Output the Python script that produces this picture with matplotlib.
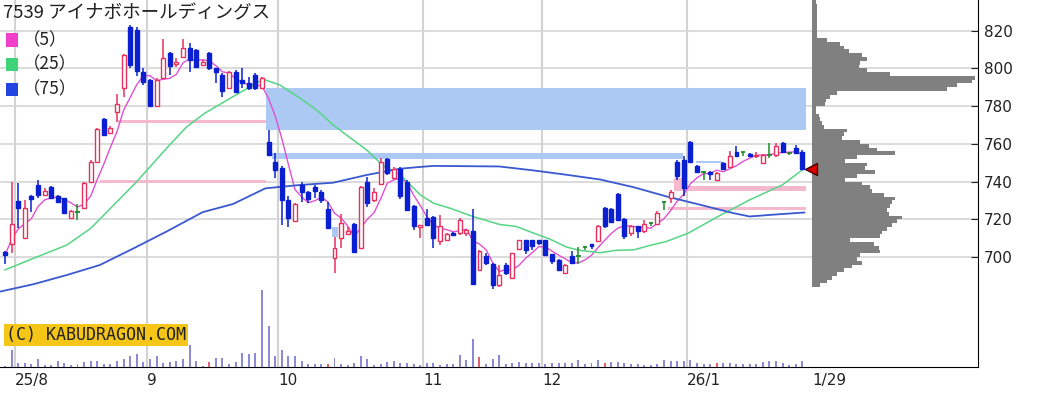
import numpy as np
import pandas as pd
import matplotlib
matplotlib.use('Agg')
import matplotlib.pyplot as plt
from matplotlib.patches import Rectangle

# daily candles, 2025/07/30 .. 2026/01/29 (index = trading day)
opens = [702.5, 706.8, 729.7, 710.3, 732.4, 738.2, 732.9, 737.3, 732.4, 731.1,
         720.5, 724.1, 725.8, 740.0, 750.6, 773.2, 765.6, 777.0, 789.8, 822.1,
         820.3, 797.9, 793.8, 780.2, 794.7, 807.9, 802.2, 806.0, 810.6, 809.7,
         801.8, 807.9, 800.0, 796.5, 789.4, 798.2, 793.8, 792.0, 796.5, 789.4,
         761.1, 750.6, 747.0, 730.2, 719.3, 738.2, 734.7, 737.0, 734.3, 725.3,
         699.3, 709.9, 712.2, 717.5, 704.6, 740.0, 730.2, 738.7, 751.8, 741.7,
         746.5, 740.0, 727.1, 715.8, 720.6, 721.1, 708.3, 709.1, 713.0, 712.7,
         712.7, 714.0, 693.2, 700.3, 696.4, 685.3, 695.9, 688.8, 704.2, 708.8,
         708.8, 708.8, 708.8, 701.7, 698.5, 691.8, 700.3, 700.7, 705.3, 707.0,
         708.3, 725.9, 725.3, 733.3, 720.0, 712.7, 716.2, 713.6, 718.3, 717.6,
         729.0, 731.2, 750.6, 751.5, 761.2, 748.0, 745.3, 745.3, 740.9, 749.8,
         747.6, 755.4, 755.4, 754.7, 753.6, 750.1, 754.2, 754.2, 760.4, 755.1,
         757.7, 755.9]
highs = [703.0, 740.0, 739.0, 730.0, 733.0, 740.8, 736.4, 737.8, 733.0, 731.5,
         725.0, 728.0, 740.0, 751.4, 768.6, 773.9, 769.6, 786.2, 807.4, 823.0,
         822.1, 800.4, 794.5, 794.7, 815.5, 808.5, 805.5, 815.5, 813.4, 810.0,
         804.4, 808.8, 800.2, 797.4, 798.8, 799.1, 800.0, 795.2, 797.4, 795.2,
         767.3, 755.0, 748.0, 732.4, 728.5, 740.0, 735.0, 738.2, 735.5, 729.4,
         710.8, 722.8, 716.1, 717.9, 737.7, 742.6, 736.4, 752.3, 752.7, 747.6,
         747.5, 741.0, 727.7, 717.1, 725.4, 721.9, 722.4, 713.0, 713.5, 720.6,
         714.8, 725.4, 703.5, 702.4, 696.8, 695.9, 696.8, 702.4, 709.1, 709.1,
         709.1, 709.1, 709.1, 701.7, 698.9, 696.2, 703.0, 705.3, 705.6, 707.0,
         717.1, 726.4, 725.9, 733.8, 720.6, 717.0, 716.5, 719.7, 718.8, 724.2,
         729.4, 735.6, 751.2, 753.3, 761.5, 748.9, 745.6, 745.6, 745.3, 750.5,
         756.0, 758.6, 755.6, 755.0, 755.4, 754.5, 760.4, 760.4, 760.8, 755.3,
         759.5, 756.5]
lows = [696.5, 702.0, 715.2, 709.5, 724.0, 731.5, 732.5, 731.1, 728.5, 722.6,
        720.0, 719.6, 725.5, 739.6, 749.7, 764.3, 765.0, 771.7, 785.0, 800.0,
        796.1, 791.2, 780.2, 779.7, 794.3, 796.5, 800.9, 805.4, 798.2, 800.0,
        801.0, 799.1, 792.0, 785.0, 788.9, 787.1, 789.4, 788.5, 788.5, 788.9,
        754.0, 741.7, 717.0, 716.1, 718.8, 729.4, 728.5, 731.1, 728.8, 715.0,
        691.4, 704.6, 711.7, 702.9, 704.3, 726.7, 729.4, 738.2, 743.5, 741.2,
        731.0, 724.5, 714.4, 710.0, 716.2, 704.7, 706.5, 708.6, 711.2, 711.8,
        711.3, 685.8, 692.4, 695.9, 683.0, 684.4, 690.6, 688.3, 703.8, 701.7,
        703.5, 706.5, 700.8, 696.4, 692.9, 691.5, 696.8, 696.4, 703.8, 704.2,
        707.9, 715.2, 718.3, 719.3, 709.5, 711.2, 710.0, 713.0, 716.5, 717.1,
        725.0, 728.6, 740.9, 732.1, 750.0, 744.5, 740.9, 741.0, 740.6, 746.0,
        747.3, 752.9, 753.3, 753.0, 752.7, 749.8, 752.4, 753.0, 755.0, 754.0,
        754.7, 746.0]
closes = [701.0, 717.4, 726.2, 726.2, 730.8, 732.9, 735.2, 731.5, 729.4, 723.2,
          724.4, 724.1, 739.1, 750.6, 767.9, 764.7, 768.6, 780.9, 807.1, 801.5,
          798.8, 792.9, 780.2, 793.8, 805.3, 801.2, 803.5, 810.6, 804.4, 800.9,
          803.5, 800.0, 798.2, 788.0, 798.2, 787.6, 792.0, 789.4, 789.4, 794.7,
          754.1, 746.1, 730.2, 720.5, 728.1, 734.7, 730.6, 735.2, 730.2, 715.2,
          705.0, 717.9, 714.0, 702.9, 737.3, 728.5, 734.7, 750.6, 744.4, 746.5,
          732.1, 725.0, 716.2, 717.1, 717.1, 710.0, 716.2, 712.1, 711.8, 719.4,
          714.4, 685.8, 703.0, 696.8, 685.3, 690.6, 691.5, 702.0, 708.8, 703.8,
          705.6, 707.4, 701.2, 697.7, 693.2, 695.9, 697.1, 700.7, 705.3, 705.6,
          716.6, 716.2, 718.8, 719.7, 711.0, 716.2, 713.6, 717.6, 718.3, 723.3,
          729.0, 734.7, 743.0, 736.5, 750.6, 745.3, 745.3, 744.1, 744.8, 746.6,
          753.3, 753.3, 755.4, 753.3, 754.3, 754.2, 754.2, 758.6, 755.9, 755.1,
          755.1, 746.6]
volume = [1, 17, 4, 4, 3, 8, 2, 2, 6, 4, 2, 3, 5, 6, 6, 3, 3, 6, 8, 11,
          13, 5, 8, 11, 4, 5, 6, 8, 22, 6, 1, 5, 9, 9, 3, 5, 14, 13, 14, 77,
          41, 11, 17, 11, 11, 6, 3, 3, 3, 3, 9, 3, 2,
          4, 11, 8, 2, 3, 5, 6, 4, 4, 3, 2, 4, 4, 2, 3, 3, 12, 7, 28, 10,
          3, 8, 12, 3, 4, 5, 4, 4, 4, 3, 4, 4, 4, 4, 7, 3, 4, 7, 4, 5,
          5, 4, 3, 3, 2, 2, 3, 7, 6, 6, 6, 7, 4, 3, 3, 4, 4, 4, 3, 3,
          3, 3, 5, 6, 6, 4, 2, 3, 6]
vol_red = [31, 49, 72, 91, 108]

# moving averages (25 and 75 days)
ma25_x = [0, 4.3, 9.4, 13, 16, 20, 24.5, 27.6, 30.3, 34.6, 39.2, 41.7, 44.8, 47.3,
          49.8, 52.3, 54.9, 57.4, 60, 63, 65, 67.5, 71, 75, 77.6, 80.2, 82.7, 85.2,
          87.3, 90.3, 92.8, 95.4, 97.9, 100.4, 103.7, 108, 113, 118, 121]
ma25_y = [693.2, 699.3, 706.4, 715.2, 725.8, 740.0, 757.6, 769.1, 776.2, 785.0,
          794.2, 791.2, 784.1, 777.9, 770.0, 763.4, 756.7, 748.3, 743.5, 733.0,
          728.6, 725.9, 721.5, 717.3, 716.2, 712.7, 709.5, 705.3, 703.5, 702.3,
          703.6, 703.8, 706.2, 708.3, 712.7, 721.1, 730.3, 738.3, 746.2]
ma75_x = [-0.76, 4.3, 9.4, 14.4, 19.5, 24.5, 30, 34.6, 39.5, 44.8, 49.8, 54.9,
          59.9, 62.5, 65, 75, 80.2, 85.2, 90.3, 95.4, 100.4, 105.5, 110.5, 113,
          116.3, 121.3]
ma75_y = [681.7, 685.6, 690.5, 695.8, 704.6, 713.5, 723.8, 728.1, 736.4, 738.2,
          739.4, 743.5, 746.8, 747.6, 748.3, 748.0, 745.9, 743.6, 741.1, 737.0,
          732.1, 727.7, 723.3, 721.5, 722.4, 723.6]

month_start = [2, 22, 42, 64, 82, 104]
month_labels = ['25/8', '9', '10', '11', '12', '26/1']
last_label = '1/29'

# price-volume profile (2 yen bins)
profile_price = list(range(684, 836, 2))
profile_vol = [8, 15, 20, 25, 32, 40, 50, 45, 48, 68, 67, 62, 38, 68, 70, 75,
               80, 85, 90, 77, 75, 78, 80, 83, 72, 60, 58, 50, 33, 45, 63, 53,
               55, 33, 45, 83, 65, 57, 48, 30, 32, 35, 12, 10, 8, 7, 4, 4,
               13, 14, 18, 25, 135, 145, 160, 163, 78, 55, 47, 48, 55, 50, 37, 32,
               28, 15, 5, 5, 5, 5, 5, 5, 5, 5, 5, 4]

# support / resistance zones: (from day, to day, low, high)
blue_zones = [(39.6, 121.6, 767.3, 789.4), (40.5, 102.9, 752.0, 755.3),
              (104.9, 108.8, 749.7, 751.0), (49.6, 50.6, 710.8, 716.1)]
pink_zones = [(17.1, 39.6, 771.0, 772.6), (14.4, 39.6, 739.2, 740.6),
              (101.7, 121.6, 735.2, 737.6), (100.6, 121.6, 724.7, 726.6),
              (101.5, 102.7, 735.2, 741.7)]

W, H = 1045, 399
plt.rcParams['font.family'] = ['DejaVu Sans']
fig = plt.figure(figsize=(W / 100, H / 100), dpi=100)
ax = fig.add_axes([0, 32 / H, 978 / W, 367 / H])

n = len(closes)
x = np.arange(n)
ax.set_xlim(-0.76, 147.65)
ax.set_ylim(641.75, 836.2)

# grid
ax.set_yticks(range(700, 821, 20))
ax.yaxis.grid(True, color='#d6d6d6', lw=1.2, zorder=0)
for m in month_start:
    ax.axvline(m - 0.5, color='#d2d2d2', lw=1.5, zorder=0)
ax.set_axisbelow(True)

for a, b, lo, hi in blue_zones:
    ax.add_patch(Rectangle((a, lo), b - a, hi - lo, facecolor='#abc9f3', edgecolor='none', zorder=1))
for a, b, lo, hi in pink_zones:
    ax.add_patch(Rectangle((a, lo), b - a, hi - lo, facecolor='#f6b8cd', edgecolor='none', zorder=1))

# moving averages
ma5 = pd.Series(closes).rolling(5, min_periods=1).mean()
ax.plot(x, ma5, color='#e050d0', lw=1.0, zorder=3)
ax.plot(ma25_x, ma25_y, color='#55d585', lw=1.1, zorder=3)
ax.plot(ma75_x, ma75_y, color='#3a58d0', lw=1.3, zorder=3)

# candles
pink, blue, green = '#e8305e', '#0a1fd0', '#1f8a2a'
for i in range(n):
    o, h, l, c = opens[i], highs[i], lows[i], closes[i]
    if c > o:
        col = pink
    elif c < o:
        col = blue
    else:
        col = green
    ax.vlines(i, l, h, color=col, lw=1.1, zorder=4)
    if col == green:
        ax.hlines(o, i - 0.35, i + 0.35, color=col, lw=1.3, zorder=5)
    elif col == pink:
        ax.bar(i, c - o, bottom=o, width=0.6, facecolor='white', edgecolor=col, lw=1.0, zorder=5)
    else:
        ax.bar(i, o - c, bottom=c, width=0.6, facecolor=col, edgecolor=col, lw=1.0, zorder=5)

# volume profile on the right
hist_left = n + 0.5
ax.barh(profile_price, np.array(profile_vol) / 6.59, left=hist_left, height=2,
        align='edge', color='#808080', zorder=2)
ax.plot(hist_left - 0.2, closes[-1], marker='<', ms=8, color='#e00000',
        markeredgecolor='#400000', zorder=6, clip_on=False)

# axes styling
for s in ['left', 'top']:
    ax.spines[s].set_visible(False)
ax.spines['right'].set_color('black')
ax.spines['bottom'].set_color('black')
ax.yaxis.tick_right()
ax.tick_params(axis='y', direction='in', length=5, labelsize=11, pad=4, colors='#222222')
ax.set_xticks([m - 0.5 for m in month_start] + [hist_left])
ax.set_xticklabels(month_labels + [last_label])
for t in ax.get_xticklabels():
    t.set_horizontalalignment('left')
ax.tick_params(axis='x', length=0, labelsize=11, pad=4, colors='#222222')

# volume bars
vax = fig.add_axes(ax.get_position())
vax.set_xlim(ax.get_xlim())
vax.set_ylim(0, max(volume) * 367 / 77)
vax.patch.set_alpha(0)
vax.axis('off')
vcols = ['#e06070' if i in vol_red else '#8a8ad6' for i in x]
vax.bar(x, volume, width=0.3, color=vcols)

# title and legend
jp = ['Noto Sans CJK JP', 'DejaVu Sans']
fig.text(3 / W, 1 - 13 / H, '7539 アイナボホールディングス', fontsize=13.3,
         va='center', family=jp, color='#222222')
for k, (lab, col) in enumerate([('（5）', '#f040c8'), ('（25）', '#40d478'), ('（75）', '#2244e0')]):
    yc = 40 + k * 24.5
    fig.add_artist(Rectangle((6 / W, 1 - (yc + 6.5) / H), 12 / W, 13 / H,
                             transform=fig.transFigure, facecolor=col, edgecolor='none'))
    fig.text(23 / W, 1 - yc / H, lab, fontsize=12.5, va='center', family=jp, color='#222222')

fig.text(6 / W, 1 - 335 / H, '(C) KABUDRAGON.COM', family='DejaVu Sans Mono',
         fontsize=12, va='center', color='#222222',
         bbox=dict(facecolor='#f5c518', edgecolor='none', pad=1.2))

fig.savefig('out.png', dpi=100)
